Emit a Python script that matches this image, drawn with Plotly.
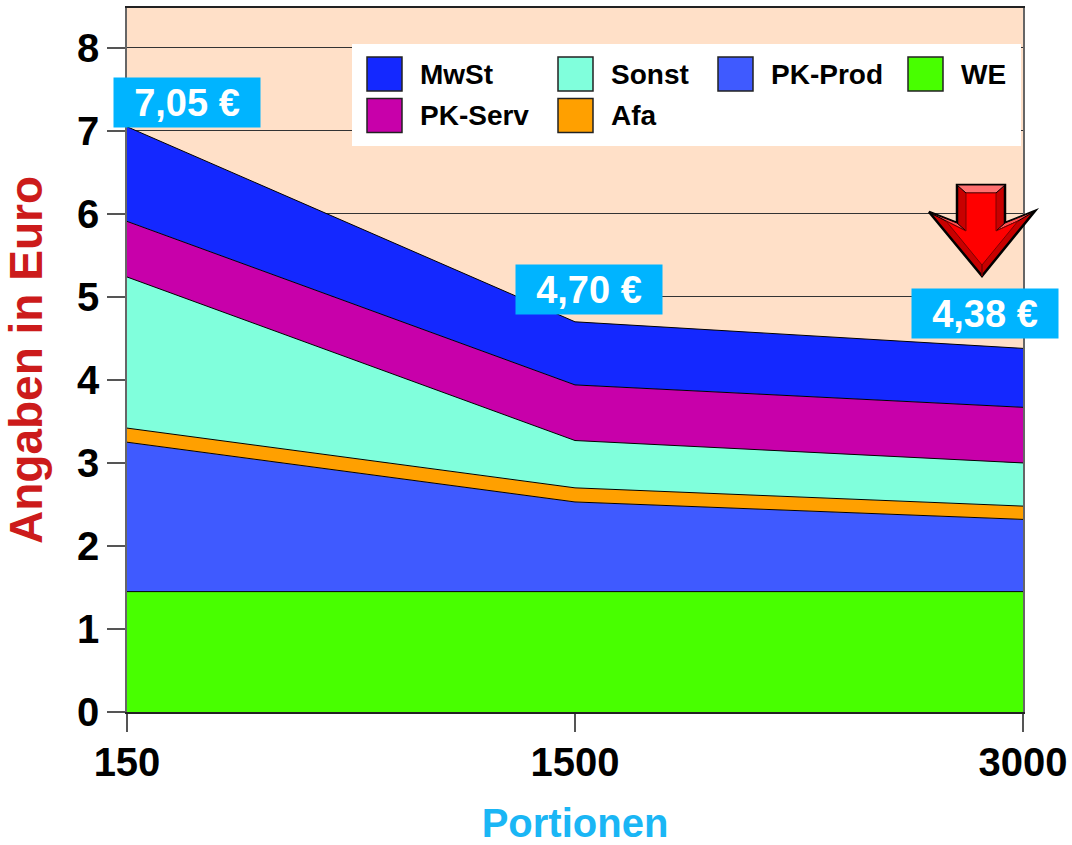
import plotly.graph_objects as go

# ---------------- data ----------------
portionen = ["150", "1500", "3000"]
x_pos = [0, 1, 2]

we = [1.45, 1.45, 1.45]
pk_prod = [1.80, 1.08, 0.87]
afa = [0.17, 0.17, 0.16]
sonst = [1.82, 0.57, 0.52]
pk_serv = [0.67, 0.67, 0.67]
mwst = [1.14, 0.76, 0.71]

y_ticks = [0, 1, 2, 3, 4, 5, 6, 7, 8]

# stacking order bottom -> top
stack_names = ["WE", "PK-Prod", "Afa", "Sonst", "PK-Serv", "MwSt"]
stack_values = [we, pk_prod, afa, sonst, pk_serv, mwst]
colors = {
    "WE": "#48FF00",
    "PK-Prod": "#3F5AFF",
    "Afa": "#FFA000",
    "Sonst": "#80FFDC",
    "PK-Serv": "#C800AA",
    "MwSt": "#1428FF",
}
# legend layout (row-wise)
legend_rows = [["MwSt", "Sonst", "PK-Prod", "WE"], ["PK-Serv", "Afa"]]

totals = [round(sum(v[i] for v in stack_values), 2) for i in range(len(x_pos))]

# ---------------- layout constants ----------------
W, H = 1072, 845
ML, MR, MT, MB = 127, 49, 8, 133
PW, PH = W - ML - MR, H - MT - MB


def px(x):
    return (x - ML) / PW


def py(y):
    return (H - MB - y) / PH


def path(points):
    return "M " + " L ".join(f"{px(a):.5f},{py(b):.5f}" for a, b in points) + " Z"


fig = go.Figure()
for name, vals in zip(stack_names, stack_values):
    fig.add_trace(go.Scatter(
        x=x_pos, y=vals, name=name, mode="lines",
        stackgroup="one", fillcolor=colors[name],
        line=dict(color="black", width=1),
        showlegend=False,
    ))

bold = "bold"
font_family = "Liberation Sans, Arial, sans-serif"

shapes = []
annotations = []

# legend box
shapes.append(dict(type="rect", xref="paper", yref="paper",
                   x0=px(352), x1=px(1021), y0=py(146), y1=py(44),
                   fillcolor="white", line=dict(width=0), layer="above"))
col_x = [367, 558, 718, 908]
row_y = [74, 115.5]
for r, row in enumerate(legend_rows):
    for c, name in enumerate(row):
        x0 = col_x[c]
        yc = row_y[r]
        shapes.append(dict(type="rect", xref="paper", yref="paper",
                           x0=px(x0), x1=px(x0 + 35), y0=py(yc + 17), y1=py(yc - 17),
                           fillcolor=colors[name], line=dict(color="#222", width=1.5),
                           layer="above"))
        annotations.append(dict(xref="paper", yref="paper", x=px(x0 + 51), y=py(yc),
                                text=name, showarrow=False, xanchor="left", yanchor="middle",
                                font=dict(family=font_family, size=28, color="black", weight=bold)))

# red arrow (decoration)
outer = [(957, 185), (1005, 185), (1005, 223), (1035, 211), (982, 276), (929, 212), (957, 223)]
inner = [(966, 193), (996, 193), (996, 231), (1018, 221), (982, 265), (946, 221), (966, 231)]
top_bevel = [(957, 185), (1005, 185), (996, 193), (966, 193)]
left_wing_bevel = [(929, 212), (957, 223), (966, 231), (946, 221)]
right_wing_bevel = [(1005, 223), (1035, 211), (1018, 221), (996, 231)]
shapes.append(dict(type="path", xref="paper", yref="paper", path=path(outer),
                   fillcolor="#C80000", line=dict(color="black", width=2.5), layer="above"))
shapes.append(dict(type="path", xref="paper", yref="paper", path=path(top_bevel),
                   fillcolor="#FF7070", line=dict(color="black", width=1), layer="above"))
shapes.append(dict(type="path", xref="paper", yref="paper", path=path(left_wing_bevel),
                   fillcolor="#FF5050", line=dict(color="black", width=1), layer="above"))
shapes.append(dict(type="path", xref="paper", yref="paper", path=path(right_wing_bevel),
                   fillcolor="#FF5050", line=dict(color="black", width=1), layer="above"))
shapes.append(dict(type="path", xref="paper", yref="paper", path=path(inner),
                   fillcolor="#FF0000", line=dict(color="#800000", width=1), layer="above"))
shapes.append(dict(type="path", xref="paper", yref="paper",
                   path=path([(982, 265), (982, 276)]),
                   line=dict(color="#800000", width=1), layer="above"))

# total labels
label_shift = [(60, 24), (14, 32), (-38, 35)]
for xi, t, (dx, dy) in zip(x_pos, totals, label_shift):
    txt = f"{t:.2f}".replace(".", ",") + " €"
    annotations.append(dict(x=xi, y=t, xref="x", yref="y", text=txt, showarrow=False,
                            xshift=dx, yshift=dy, xanchor="center", yanchor="middle",
                            width=140, height=43, borderpad=3, bgcolor="#00B4FF",
                            font=dict(family=font_family, size=38, color="white", weight=bold)))

fig.update_layout(
    width=W, height=H, autosize=False,
    margin=dict(l=ML, r=MR, t=MT, b=MB),
    paper_bgcolor="white", plot_bgcolor="#FFE0C8",
    font=dict(family=font_family, color="black"),
    shapes=shapes, annotations=annotations,
    showlegend=False,
)
fig.update_xaxes(
    range=[0, 2], tickvals=x_pos, ticktext=portionen, automargin=False,
    showgrid=False, zeroline=False,
    ticks="outside", ticklen=18, tickcolor="#555", tickwidth=1.5,
    ticklabelstandoff=-4,
    showline=True, linecolor="#222", linewidth=2, mirror=True,
    tickfont=dict(size=40, weight=bold, color="black"),
    title=dict(text="Portionen", standoff=37,
               font=dict(size=40, weight=bold, color="#1AB6F5")),
)
fig.update_yaxes(
    range=[0, 8.48], tickvals=y_ticks, automargin=False,
    showgrid=True, gridcolor="#333", gridwidth=1, zeroline=False,
    ticks="outside", ticklen=18, tickcolor="#555", tickwidth=1.5,
    showline=True, linecolor="#666", linewidth=1.5, mirror=True,
    tickfont=dict(size=40, weight=bold, color="black"),
    title=dict(text="Angaben in Euro", standoff=22,
               font=dict(size=46, weight=bold, color="#CC1B1B")),
)

fig.write_html("out.html")
